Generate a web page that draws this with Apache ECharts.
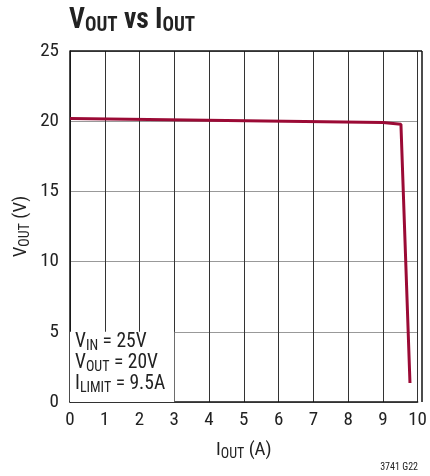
<!DOCTYPE html>
<html><head><meta charset="utf-8">
<script src="https://cdn.jsdelivr.net/npm/echarts@6/dist/echarts.min.js"></script>
<style>html,body{margin:0;padding:0;background:#fff}#c{width:430px;height:476px}</style>
</head><body><div id="c"></div>
<script>
var xTicks = [0,1,2,3,4,5,6,7,8,9,10];
var yTicks = [0,5,10,15,20,25];
var iout = [0, 9.0, 9.52, 9.78];
var vout = [20.2, 19.9, 19.78, 1.35];
var FONT = "'Liberation Sans Narrow','Roboto Condensed','Liberation Sans',sans-serif";
var data = iout.map(function(x,i){return [x, vout[i]];});
var chart = echarts.init(document.getElementById('c'), null, {renderer:'canvas'});
var sub = {fontFamily:FONT, fontSize:14, color:'#222', padding:[8,0,0,0]};
var main = {fontFamily:FONT, fontSize:19, color:'#222'};
chart.setOption({
  animation:false,
  backgroundColor:'#fff',
  grid:{left:70, right:8, top:51, bottom:74},
  xAxis:{
    type:'value', min:0, max:10, interval:1,
    name:'{m|I}{s|OUT}{m| (A)}', nameLocation:'middle', nameGap:37,
    nameTextStyle:{rich:{m:main, s:sub}},
    axisLine:{show:true, lineStyle:{color:'#111', width:1.5}},
    axisTick:{show:false},
    axisLabel:{fontFamily:FONT, fontSize:19, color:'#222', margin:9,
      formatter:function(v){return xTicks.indexOf(v)>=0?String(v):'';}},
    splitLine:{show:true, lineStyle:{color:'#333', width:1}}
  },
  yAxis:{
    type:'value', min:0, max:25, interval:5,
    name:'{m|V}{s|OUT}{m| (V)}', nameLocation:'middle', nameGap:38, nameMoveOverlap:false,
    nameTextStyle:{rich:{m:main, s:sub}},
    axisLine:{show:true, lineStyle:{color:'#111', width:1.5}},
    axisTick:{show:false},
    axisLabel:{fontFamily:FONT, fontSize:19, color:'#222', margin:11,
      formatter:function(v){return yTicks.indexOf(v)>=0?String(v):'';}},
    splitLine:{show:true, lineStyle:{color:'#999', width:1}}
  },
  graphic:[
    {type:'text', left:69, top:6, scaleX:0.95, z:20, style:{
      text:'{b|V}{bs|OUT}{b| vs I}{bs|OUT}',
      rich:{
        b:{fontFamily:FONT, fontSize:29, fontWeight:'bold', fill:'#222'},
        bs:{fontFamily:FONT, fontSize:20, fontWeight:'bold', fill:'#222', padding:[11,0,0,0]}
      }}},
    {type:'line', shape:{x1:422,y1:51,x2:422,y2:402}, style:{stroke:'#111', lineWidth:1.5}, z:10},
    {type:'line', shape:{x1:70,y1:51,x2:422,y2:51}, style:{stroke:'#111', lineWidth:1.5}, z:10},
    {type:'text', left:75, top:331, z:20, style:{
      text:'{m|V}{s|IN}{m| = 25V}\n{m|V}{s|OUT}{m| = 20V}\n{m|I}{s|LIMIT}{m| = 9.5A}',
      rich:{m:{fontFamily:FONT, fontSize:19.5, fill:'#222', lineHeight:21}, s:{fontFamily:FONT, fontSize:14, fill:'#222', padding:[8,0,0,0], lineHeight:21}}
    }},
    {type:'text', right:12, top:462, style:{text:'3741 G22', fontFamily:FONT, fontSize:10, fill:'#222'}}
  ],
  series:[{
    type:'line', data:data, symbol:'none',
    lineStyle:{color:'#9b0a35', width:3},
    markArea:{silent:true, itemStyle:{color:'#fff', opacity:1}, data:[[{coord:[0,0]},{coord:[3,5]}]]},
    z:5
  }]
});
</script></body></html>
